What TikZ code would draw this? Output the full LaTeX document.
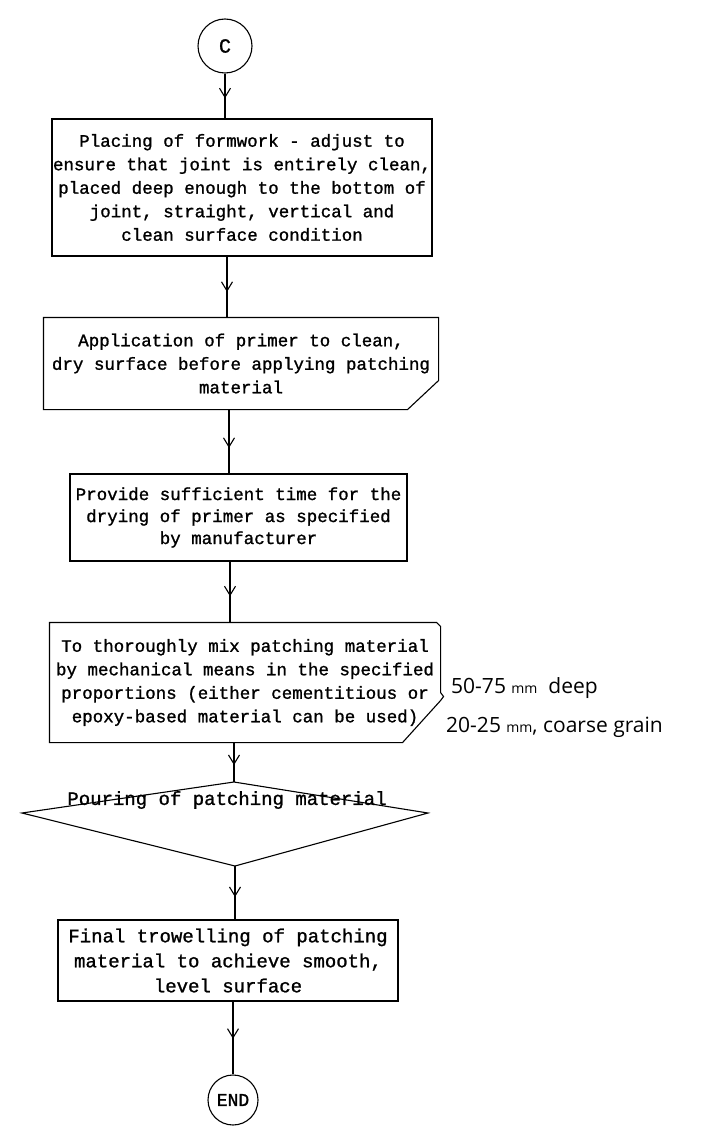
\documentclass[tikz,border=0pt]{standalone}
\usepackage{fontspec}
\setmonofont[FakeBold=1.2]{Liberation Mono}
\newfontfamily\handfont{Open Sans}
\usetikzlibrary{arrows.meta,decorations.markings}
\tikzset{
  box/.style={draw,line width=1.1pt,align=center,inner sep=0pt,
    font=\fontsize{17.5}{23.5}\selectfont\ttfamily},
  bigbox/.style={box,font=\fontsize{19}{25}\selectfont\ttfamily},
  term/.style={draw,circle,line width=1.1pt,minimum size=54pt,inner sep=0pt,
    font=\fontsize{20}{22}\selectfont\ttfamily},
  flow/.style={line width=1.1pt,postaction={decorate},decoration={markings,
    mark=at position #1 with {\arrow{Straight Barb[length=9pt,width=11pt,line width=1.1pt]}}}},
  flow/.default=0.55,
  hand/.style={anchor=west,inner sep=0pt,font=\handfont\fontsize{21}{24}\selectfont}
}
\begin{document}
\begin{tikzpicture}[x=1pt,y=-1pt]
\useasboundingbox (0,0) rectangle (714,1126);
\node[term] (c) at (225,46) {C};
\node[box,minimum width=380pt,minimum height=137pt] (form) at (242,187.5)
  {Placing of formwork - adjust to\\ensure that joint is entirely clean,\\placed deep enough to the bottom of\\joint, straight, vertical and\\clean surface condition};
\node[box,draw=none,minimum width=394pt,minimum height=91pt] (primer) at (241,363.5)
  {Application of primer to clean,\\dry surface before applying patching\\material};
\draw[line width=1.1pt] (primer.north west) -- (primer.north east) -- ([yshift=29pt]primer.south east)
  -- ([xshift=-31pt]primer.south east) -- (primer.south west) -- cycle;
\node[box,minimum width=337pt,minimum height=87pt,font=\fontsize{17.5}{22}\selectfont\ttfamily] (dry) at (238.5,517.5)
  {Provide sufficient time for the\\drying of primer as specified\\by manufacturer};
\node[box,draw=none,minimum width=390pt,minimum height=119pt] (mix) at (245,682.5)
  {To thoroughly mix patching material\\by mechanical means in the specified\\proportions (either cementitious or\\epoxy-based material can be used)};
\draw[line width=1.1pt] (mix.north west) -- ([xshift=-4pt]mix.north east) -- ([yshift=-4pt]mix.north east)
  -- ([yshift=50pt]mix.south east) -- ([xshift=3pt,yshift=46pt]mix.south east) -- ([yshift=42pt]mix.south east)
  -- ([xshift=-38pt]mix.south east) -- (mix.south west) -- cycle;
\coordinate (dtop) at (234,782);
\coordinate (dleft) at (22,813);
\coordinate (dright) at (428,813);
\coordinate (dbot) at (235,866);
\draw[line width=1.1pt] (dtop) -- (dright) -- (dbot) -- (dleft) -- cycle;
\node[font=\fontsize{19}{25}\selectfont\ttfamily,inner sep=0pt] (pour) at (227,800) {Pouring of patching material};
\node[bigbox,minimum width=340pt,minimum height=81pt] (trowel) at (228,960.5)
  {Final trowelling of patching\\material to achieve smooth,\\level surface};
\node[term,minimum size=50pt,font=\fontsize{18}{20}\selectfont\ttfamily] (endc) at (233,1100) {END};
\node[hand] (deep) at (451,688) {50-75 {\fontsize{14}{16}\selectfont mm}\ \ deep};
\node[hand] (grain) at (446,727) {20-25 {\fontsize{14}{16}\selectfont mm}, coarse grain};
\draw[flow=0.55] (c.south) -- (c.south |- form.north);
\draw[flow=0.58] ([xshift=-15pt]form.south) -- ([xshift=-15pt]form.south |- primer.north);
\draw[flow=0.6] ([xshift=-12pt]primer.south) -- ([xshift=-12pt]primer.south |- dry.north);
\draw[flow=0.57] ([xshift=-8.5pt]dry.south) -- ([xshift=-8.5pt]dry.south |- mix.north);
\draw[flow=0.57] (dtop |- mix.south) -- (dtop);
\draw[flow=0.58] (dbot) -- (dbot |- trowel.north);
\draw[flow=0.51] (endc |- trowel.south) -- (endc.north);
\end{tikzpicture}
\end{document}
